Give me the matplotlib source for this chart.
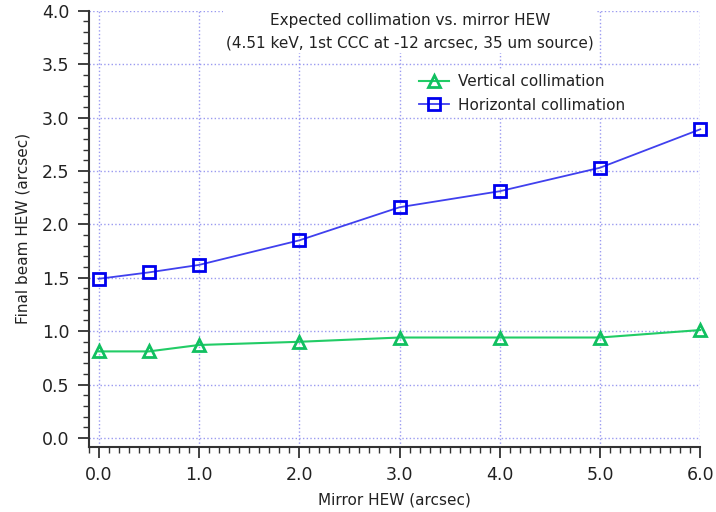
import numpy as np
import matplotlib.pyplot as plt
from matplotlib.ticker import MultipleLocator

# mirror HEW (arcsec)
mirror_hew = [0.0, 0.5, 1.0, 2.0, 3.0, 4.0, 5.0, 6.0]
# final beam HEW (arcsec)
vertical = [0.81, 0.81, 0.87, 0.90, 0.94, 0.94, 0.94, 1.01]
horizontal = [1.49, 1.55, 1.62, 1.85, 2.16, 2.31, 2.53, 2.89]

title_lines = ['Expected collimation vs. mirror HEW',
               '(4.51 keV, 1st CCC at -12 arcsec, 35 um source)']

plt.rcParams['font.family'] = 'DejaVu Sans'

fig = plt.figure(figsize=(7.16, 5.12), dpi=100)
ax = fig.add_axes([0.124, 0.127, 0.854, 0.852])

ax.plot(mirror_hew, vertical, color='#22cc66', lw=1.5, marker='^', ms=9,
        mfc='none', mec='#11c060', mew=2, label='Vertical collimation',
        zorder=3, clip_on=False)
ax.plot(mirror_hew, horizontal, color='#4040ee', lw=1.3, marker='s', ms=8,
        mfc='none', mec='#0000ee', mew=2, label='Horizontal collimation',
        zorder=3, clip_on=False)

ax.set_xlim(-0.1, 6.0)
ax.set_ylim(-0.085, 4.0)
ax.xaxis.set_major_locator(MultipleLocator(1.0))
ax.xaxis.set_minor_locator(MultipleLocator(0.1))
ax.yaxis.set_major_locator(MultipleLocator(0.5))
ax.yaxis.set_minor_locator(MultipleLocator(0.1))
ax.xaxis.set_major_formatter(plt.FormatStrFormatter('%.1f'))
ax.yaxis.set_major_formatter(plt.FormatStrFormatter('%.1f'))

ax.grid(True, which='major', color='#9a9af0', ls=':', lw=1.0)
for s in ['top', 'right']:
    ax.spines[s].set_visible(False)
for s in ['left', 'bottom']:
    ax.spines[s].set_color('#333333')
    ax.spines[s].set_linewidth(1.5)
ax.tick_params(which='major', length=8, width=1.3, color='#333333',
               labelsize=12.5, labelcolor='#222222', pad=6)
ax.tick_params(which='minor', length=4, width=1.0, color='#333333')

ax.set_xlabel('Mirror HEW (arcsec)', fontsize=11, color='#222222', labelpad=6)
ax.set_ylabel('Final beam HEW (arcsec)', fontsize=11, color='#222222', labelpad=8)

ax.text(0.525, 0.995, title_lines[0] + '\n' + title_lines[1], transform=ax.transAxes,
        ha='center', va='top', fontsize=11, color='#222222', linespacing=1.6,
        bbox=dict(facecolor='white', edgecolor='none', pad=2), zorder=4)

leg = ax.legend(loc='upper left', bbox_to_anchor=(0.532, 0.865), fontsize=11,
                frameon=True, handlelength=2.0, handletextpad=0.6,
                borderaxespad=0, borderpad=0.3, labelspacing=0.55)
leg.get_frame().set_edgecolor('none')
leg.get_frame().set_facecolor('white')
leg.get_frame().set_alpha(1.0)
for t in leg.get_texts():
    t.set_color('#222222')

fig.savefig('out.png', dpi=100)
